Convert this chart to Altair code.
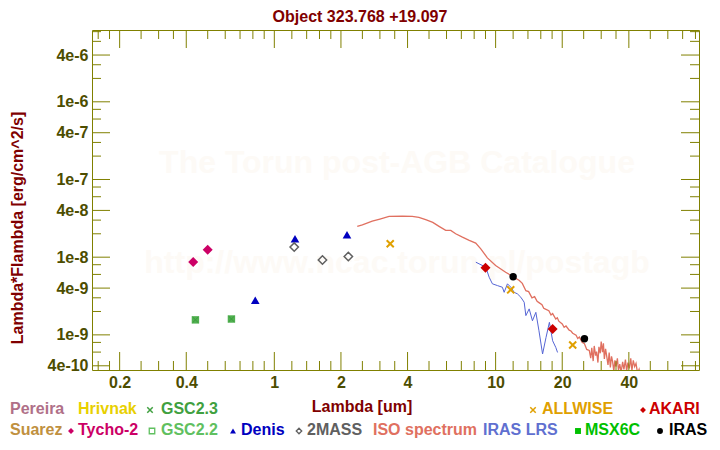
import altair as alt
import pandas as pd

# ---------------- data ----------------
TITLE = "Object 323.768 +19.097"
X_TITLE = "Lambda [um]"
Y_TITLE = "Lambda*Flambda [erg/cm^2/s]"
WATERMARK = ["The Torun post-AGB Catalogue", "http://www.ncac.torun.pl/postagb"]

tycho_lam = [0.43, 0.50]
tycho_f = [8.7e-9, 1.25e-8]
gsc_lam = [0.44, 0.64]
gsc_f = [1.56e-9, 1.6e-9]
denis_lam = [0.82, 1.24, 2.13]
denis_f = [2.8e-9, 1.73e-8, 1.95e-8]
tmass_lam = [1.23, 1.65, 2.16]
tmass_f = [1.35e-8, 9.2e-9, 1.02e-8]
allwise_lam = [3.34, 11.7, 22.3]
allwise_f = [1.49e-8, 3.8e-9, 7.4e-10]
akari_lam = [9.0, 18.1]
akari_f = [7.3e-9, 1.19e-9]
iras_lam = [12.0, 25.2]
iras_f = [5.6e-9, 8.9e-10]

iso_lam = [2.37, 2.5, 2.77, 3.0, 3.3, 3.79, 4.2, 4.5, 4.83, 5.2, 5.55, 5.95, 6.27,
           6.6, 7.08, 7.6, 8.13, 8.57, 9.18, 10.0, 11.1, 12.0, 12.8, 13.2, 13.7,
           14.1, 14.6, 15.0, 15.4, 15.7, 16.2, 16.5, 16.8, 17.4, 17.8, 18.1, 18.7,
           19.0, 19.3, 20.0, 20.4, 20.8, 21.5, 21.9, 22.3, 23.1, 23.5, 23.9, 24.6,
           25.2, 25.8, 26.5, 26.9, 27.2, 27.6, 27.9, 28.3, 28.6, 29.0, 29.3, 29.7,
           30.0, 30.4, 30.7, 31.0, 31.4, 31.8, 32.2, 32.6, 33.0, 33.4, 33.8, 34.2,
           34.6, 35.0, 35.5, 35.9, 36.4, 36.9, 37.5, 38.0, 38.6, 39.1, 39.6, 40.2,
           40.8, 41.3, 41.9, 42.5, 43.1, 43.8, 44.5, 45.0]
iso_f = [2.49e-8, 2.6e-8, 2.91e-8, 3.1e-8, 3.35e-8, 3.38e-8, 3.35e-8, 3.25e-8, 3.04e-8,
         2.8e-8, 2.49e-8, 2.21e-8, 2.21e-8, 2.0e-8, 1.81e-8, 1.65e-8, 1.52e-8, 1.28e-8,
         9.8e-9, 7.8e-9, 6.4e-9, 5.6e-9, 5.0e-9, 4.6e-9, 3.7e-9, 3.6e-9, 3.0e-9, 3.1e-9,
         2.7e-9, 2.6e-9, 2.45e-9, 2.2e-9, 2.15e-9, 2.05e-9, 1.8e-9, 1.88e-9, 1.6e-9,
         1.66e-9, 1.5e-9, 1.38e-9, 1.25e-9, 1.3e-9, 1.15e-9, 1.12e-9, 1.05e-9, 9.9e-10,
         9.0e-10, 9.4e-10, 8.0e-10, 7.7e-10, 6.5e-10, 6.3e-10, 5.0e-10, 6.8e-10, 4.6e-10,
         7.2e-10, 5.4e-10, 6.1e-10, 4.4e-10, 7.0e-10, 5.8e-10, 8.2e-10, 6.0e-10, 7.8e-10,
         4.9e-10, 6.6e-10, 5.2e-10, 4.1e-10, 5.9e-10, 3.8e-10, 5.3e-10, 4.5e-10, 3.4e-10,
         4.7e-10, 3.9e-10, 5.0e-10, 3.5e-10, 4.2e-10, 3.3e-10, 4.5e-10, 3.6e-10, 4.8e-10,
         3.4e-10, 4.4e-10, 3.7e-10, 5.0e-10, 3.5e-10, 4.7e-10, 3.9e-10, 4.3e-10, 3.2e-10,
         3.6e-10, 3.0e-10]

lrs_lam = [8.14, 9.03, 9.35, 9.67, 10.19, 10.73, 10.93, 11.31, 11.72, 12.13, 12.55,
           13.0, 13.46, 13.7, 14.18, 14.67, 15.2, 15.7, 16.3, 16.9, 17.5, 18.1, 18.7, 19.05]
lrs_f = [8.62e-9, 7.43e-9, 5.52e-9, 4.54e-9, 4.31e-9, 4.1e-9, 3.53e-9, 4.54e-9, 4.1e-9,
         3.53e-9, 3.37e-9, 3.05e-9, 2.63e-9, 1.77e-9, 2.16e-9, 1.52e-9, 1.95e-9, 1.13e-9,
         5.67e-10, 9.29e-10, 1.45e-9, 8.4e-10, 6.9e-10, 5.94e-10]

x_major = [0.2, 0.4, 1, 2, 4, 10, 20, 40]
x_minor = [0.16, 0.18, 0.25, 0.3, 0.35, 0.5, 0.6, 0.7, 0.8, 0.9, 1.2, 1.4, 1.6, 1.8,
           2.5, 3, 3.5, 5, 6, 7, 8, 9, 12, 14, 16, 18, 25, 30, 35, 50, 60, 70, 80]
y_major = [4e-10, 1e-9, 4e-9, 1e-8, 4e-8, 1e-7, 4e-7, 1e-6, 4e-6]
y_minor = [6e-10, 8e-10, 2e-9, 3e-9, 6e-9, 8e-9, 2e-8, 3e-8, 6e-8, 8e-8, 2e-7, 3e-7,
           6e-7, 8e-7, 2e-6, 3e-6, 6e-6, 8e-6]

legend_labels = ["Pereira", "Hrivnak", "GSC2.3", "ALLWISE", "AKARI",
                 "Suarez", "Tycho-2", "GSC2.2", "Denis", "2MASS", "ISO spectrum",
                 "IRAS LRS", "MSX6C", "IRAS"]
legend_colors = ["#b07088", "#e8d000", "#40a040", "#e0a000", "#cc0000",
                 "#c09040", "#cc0066", "#60c060", "#0000c0", "#606060", "#e07060",
                 "#6070d0", "#00c000", "#000000"]
legend_x = [10, 78, 161, 542, 649, 10, 78, 161, 241, 307, 373, 483, 585, 669]
legend_row = [0, 0, 0, 0, 0, 1, 1, 1, 1, 1, 1, 1, 1, 1]

sym_x = [150, 533, 643, 71, 152, 233, 299, 578, 660]
sym_row = [0, 0, 0, 1, 1, 1, 1, 1, 1]
sym_shape = ["cross", "cross", "diamond", "diamond", "square", "triangle-up",
             "diamond", "square", "circle"]
sym_fill = ["x", "x", "f", "f", "o", "f", "o", "f", "f"]
sym_color = ["#40a040", "#e0a000", "#cc0000", "#cc0066", "#60c060", "#0000c0",
             "#606060", "#00c000", "#000000"]

# ---------------- layout / style ----------------
W, H = 607, 340
LEFT, TOP = 92, 30
ROW_Y = [409, 430]
OLIVE = "#808000"
LABEL = "#4d4d00"
MAROON = "#800000"
FONT = "Liberation Sans"
XPATH = "M-1,-1L1,1M1,-1L-1,1"

xs = alt.Scale(type="log", domain=[0.15, 83], nice=False)
ys = alt.Scale(type="log", domain=[3.53e-10, 8.4e-6], nice=False)
xaxis = alt.Axis(values=x_major, labelExpr="format(datum.value, '~g')", ticks=False,
                 domain=False, grid=False, title="", labelFont=FONT, labelFontSize=16,
                 labelFontWeight="bold", labelColor=LABEL, labelPadding=4,
                 labelOverlap=False, labelFlush=False)
yaxis = alt.Axis(values=y_major, labelExpr="format(datum.value, '.0e')", ticks=False,
                 domain=False, grid=False, title="", labelFont=FONT, labelFontSize=16,
                 labelFontWeight="bold", labelColor=LABEL, labelPadding=4,
                 labelOverlap=False, labelFlush=False)
X = alt.X("lam:Q", scale=xs, axis=xaxis)
Y = alt.Y("f:Q", scale=ys, axis=yaxis)

layers = []

# watermark
for txt, wy in zip(WATERMARK, [163, 263]):
    layers.append(alt.Chart(pd.DataFrame({"a": [0]})).mark_text(
        font=FONT, fontSize=32, fontWeight="bold", color="#fdfaf6", align="center",
        baseline="middle").encode(x=alt.value(397 - LEFT), y=alt.value(wy - TOP),
                                  text=alt.value(txt)))

# spectra
layers.append(alt.Chart(pd.DataFrame({"lam": iso_lam, "f": iso_f})).mark_line(
    color="#e07060", strokeWidth=1.3, clip=True).encode(x=X, y=Y))
layers.append(alt.Chart(pd.DataFrame({"lam": lrs_lam, "f": lrs_f})).mark_line(
    color="#5565d5", strokeWidth=1, clip=True).encode(x=X, y=Y))


def pts(lam, f, shape, color, size, filled=True, sw=1.5):
    df = pd.DataFrame({"lam": lam, "f": f})
    if filled:
        mk = alt.Chart(df).mark_point(shape=shape, filled=True, color=color, size=size,
                                      opacity=1)
    else:
        mk = alt.Chart(df).mark_point(shape=shape, filled=False, color=color, size=size,
                                      strokeWidth=sw, opacity=1)
    return mk.encode(x=X, y=Y)


layers.append(pts(gsc_lam, gsc_f, "square", "#50b050", 55))
layers.append(pts(gsc_lam, gsc_f, XPATH, "#3c9c3c", 30, filled=False, sw=1))
layers.append(pts(tycho_lam, tycho_f, "diamond", "#cc0066", 100))
layers.append(pts(denis_lam, denis_f, "triangle-up", "#0000c0", 75))
layers.append(pts(tmass_lam, tmass_f, "diamond", "#606060", 70, filled=False))
layers.append(pts(allwise_lam, allwise_f, XPATH, "#e0a000", 50, filled=False, sw=2))
layers.append(pts(akari_lam, akari_f, "diamond", "#cc0000", 100))
layers.append(pts(iras_lam, iras_f, "circle", "#000000", 55))


# ticks (inward, all four sides)
def xticks(vals, L, top):
    df = pd.DataFrame({"lam": vals})
    if top:
        enc = dict(y=alt.value(0), y2=alt.value(L))
    else:
        enc = dict(y=alt.value(H), y2=alt.value(H - L))
    return alt.Chart(df).mark_rule(color=OLIVE, strokeWidth=1).encode(x=X, **enc)


def yticks(vals, L, right):
    df = pd.DataFrame({"f": vals})
    if right:
        enc = dict(x=alt.value(W), x2=alt.value(W - L))
    else:
        enc = dict(x=alt.value(0), x2=alt.value(L))
    return alt.Chart(df).mark_rule(color=OLIVE, strokeWidth=1).encode(y=Y, **enc)


for top in (False, True):
    layers.append(xticks(x_major, 18, top))
    layers.append(xticks(x_minor, 9, top))
for right in (False, True):
    layers.append(yticks(y_major, 18, right))
    layers.append(yticks(y_minor, 9, right))


def label(txt, px, py, color, size=16, align="left", angle=0):
    return alt.Chart(pd.DataFrame({"a": [0]})).mark_text(
        font=FONT, fontSize=size, fontWeight="bold", color=color, align=align,
        baseline="middle", angle=angle).encode(
        x=alt.value(px - LEFT), y=alt.value(py - TOP), text=alt.value(txt))


layers.append(label(TITLE, 360, 17, MAROON, align="center"))
layers.append(label(X_TITLE, 362, 407, MAROON, align="center"))
layers.append(label(Y_TITLE, 18, 228, MAROON, align="center", angle=270))

for t, c, lx, r in zip(legend_labels, legend_colors, legend_x, legend_row):
    layers.append(label(t, lx, ROW_Y[r], c))

for sx, r, sh, fl, c in zip(sym_x, sym_row, sym_shape, sym_fill, sym_color):
    base = alt.Chart(pd.DataFrame({"a": [0]}))
    if fl == "x":
        mk = base.mark_point(shape=XPATH, filled=False, color=c, size=30, strokeWidth=1.5,
                             opacity=1)
    elif fl == "o":
        mk = base.mark_point(shape=sh, filled=False, color=c, size=30, strokeWidth=1.3,
                             opacity=1)
    else:
        mk = base.mark_point(shape=sh, filled=True, color=c, size=35, opacity=1)
    layers.append(mk.encode(x=alt.value(sx - LEFT), y=alt.value(ROW_Y[r] - TOP + 1)))

chart = alt.layer(*layers).properties(
    width=W, height=H,
    autosize=alt.AutoSizeParams(type="none"),
    padding={"left": LEFT - 8, "top": TOP - 8, "right": 720 - 8 - LEFT - W + 8 - 8,
             "bottom": 450 - 8 - TOP - H},
    background="white",
).configure_view(stroke=OLIVE, strokeWidth=1)

chart.save("out.html", embed_options={"renderer": "svg", "actions": False})
